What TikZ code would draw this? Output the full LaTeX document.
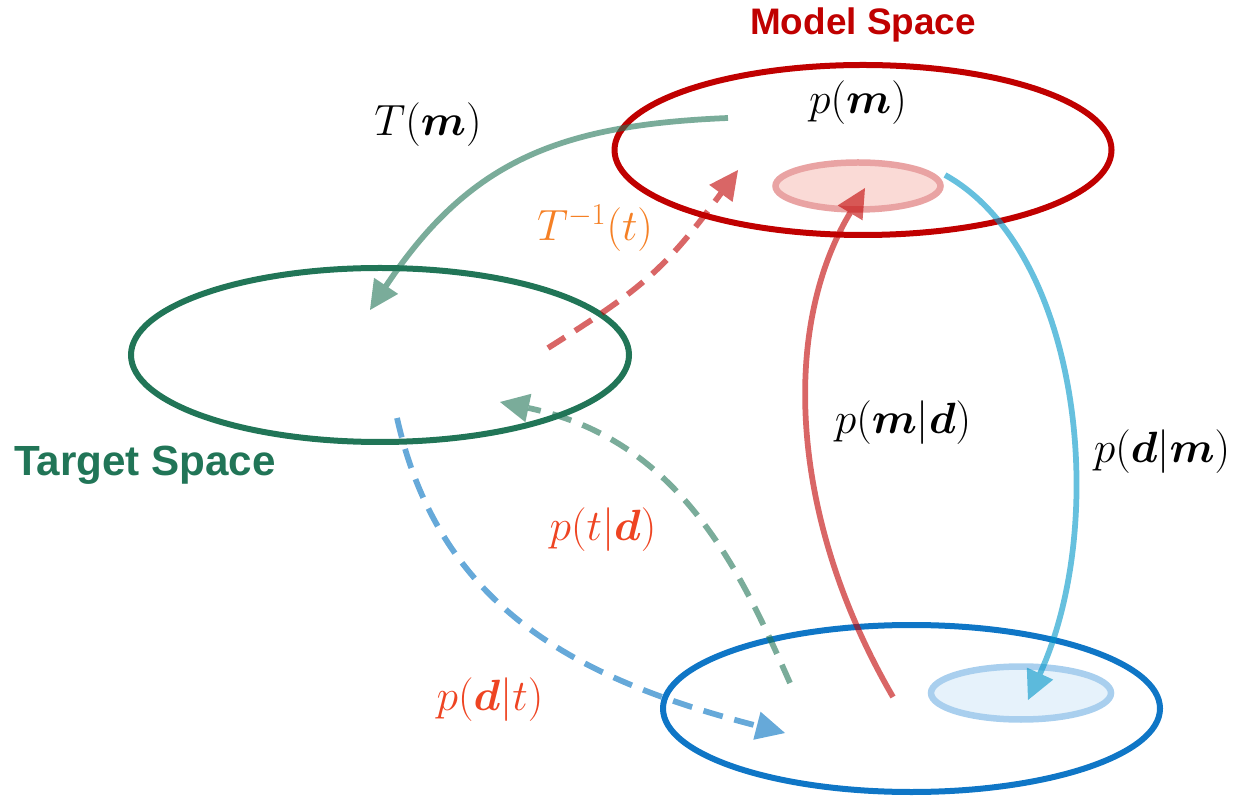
\documentclass[tikz,border=0pt]{standalone}
\usepackage{amsmath}
\usepackage{fontspec}
\newfontfamily\headfont{Liberation Sans}
\usepackage{tikz}
\usetikzlibrary{arrows.meta, shapes.geometric}

\definecolor{modelred}{HTML}{C00000}
\definecolor{targetgreen}{HTML}{217557}
\definecolor{dataBlue}{HTML}{0F76C6}
\definecolor{skyBlue}{HTML}{0096C8}
\definecolor{dashBlue}{HTML}{0070C0}
\definecolor{invOrange}{HTML}{F58025}
\definecolor{condRed}{HTML}{EE4422}
\definecolor{blobPink}{HTML}{FADAD6}
\definecolor{blobPinkLine}{HTML}{E9A3A3}
\definecolor{blobBlue}{HTML}{E6F2FB}
\definecolor{blobBlueLine}{HTML}{A9CFEE}

\begin{document}
\begin{tikzpicture}[
    space/.style={
        draw, ellipse, line width=0.12cm, inner sep=0pt
    },
    blob/.style={
        draw, ellipse, line width=0.13cm, inner sep=0pt
    },
    title/.style={font=\headfont\bfseries\fontsize{21}{25}\selectfont},
    lbl/.style={font=\fontsize{24}{28}\selectfont},
    arr/.style={-{Triangle[length=0.58cm, width=0.58cm, line width=0pt]}, line width=0.115cm, opacity=0.6},
    dsh/.style={dash pattern=on 0.4cm off 0.24cm}
]
    \useasboundingbox (0,0) rectangle (24.8,15.96);

    % The three spaces
    \node[space, draw=modelred, minimum width=9.94cm, minimum height=3.4cm]
        (model) at (17.26,12.96) {};
    \node[space, draw=targetgreen, minimum width=9.96cm, minimum height=3.48cm]
        (target) at (7.6,8.86) {};
    \node[space, draw=dataBlue, minimum width=9.94cm, minimum height=3.34cm]
        (data) at (18.23,1.79) {};

    % Posterior / observation blobs
    \node[blob, draw=blobPinkLine, fill=blobPink, minimum width=3.3cm, minimum height=0.94cm]
        (post) at (17.16,12.24) {};
    \node[blob, draw=blobBlueLine, fill=blobBlue, minimum width=3.6cm, minimum height=1.06cm]
        (obs) at (20.42,2.10) {};

    % Titles
    \node[title, text=modelred] (mtitle) at (17.26,15.46) {Model Space};
    \node[title, text=targetgreen, font=\headfont\bfseries\fontsize{24}{28}\selectfont]
        (ttitle) at (2.9,6.66) {Target Space};

    % Arrow end points
    \coordinate (tmS) at (14.56,13.60);
    \coordinate (tmE) at (7.40,9.76);
    \coordinate (tiS) at (10.96,9.00);
    \coordinate (tiE) at (14.76,12.56);
    \coordinate (mdS) at (17.86,2.02);
    \coordinate (mdE) at (17.30,12.20);
    \coordinate (dmS) at (18.90,12.46);
    \coordinate (dmE) at (20.56,1.96);
    \coordinate (tdS) at (15.80,2.30);
    \coordinate (tdE) at (10.00,7.92);
    \coordinate (dtS) at (7.94,7.60);
    \coordinate (dtE) at (15.70,1.30);

    % Maps between model and target
    \draw[arr, targetgreen] (tmS) .. controls (11.2,13.46) and (9.4,12.76) .. (tmE);
    \draw[arr, modelred, dsh] (tiS) .. controls (12.8,10.16) and (13.3,10.56) .. (tiE);

    % Likelihood and posterior
    \draw[arr, modelred] (mdS) .. controls (15.8,5.56) and (15.6,9.36) .. (mdE);
    \draw[arr, skyBlue] (dmS) .. controls (21.6,10.96) and (22.2,5.56) .. (dmE);

    % Target <-> data
    \draw[arr, targetgreen, dsh] (tdS) .. controls (14.8,4.56) and (13.6,7.16) .. (tdE);
    \draw[arr, dashBlue, dsh] (dtS) .. controls (8.8,3.76) and (11.6,2.36) .. (dtE);

    % Labels
    \node[lbl] (lTm) at (8.56,13.46) {$T(\boldsymbol{m})$};
    \node[lbl] (lpm) at (17.16,13.90) {$p(\boldsymbol{m})$};
    \node[lbl, text=invOrange] (lTi) at (11.90,11.40) {$T^{-1}(t)$};
    \node[lbl] (lmd) at (18.06,7.50) {$p(\boldsymbol{m}|\boldsymbol{d})$};
    \node[lbl] (ldm) at (23.24,6.92) {$p(\boldsymbol{d}|\boldsymbol{m})$};
    \node[lbl, text=condRed] (ltd) at (12.06,5.36) {$p(t|\boldsymbol{d})$};
    \node[lbl, text=condRed] (ldt) at (9.80,1.96) {$p(\boldsymbol{d}|t)$};
\end{tikzpicture}
\end{document}
